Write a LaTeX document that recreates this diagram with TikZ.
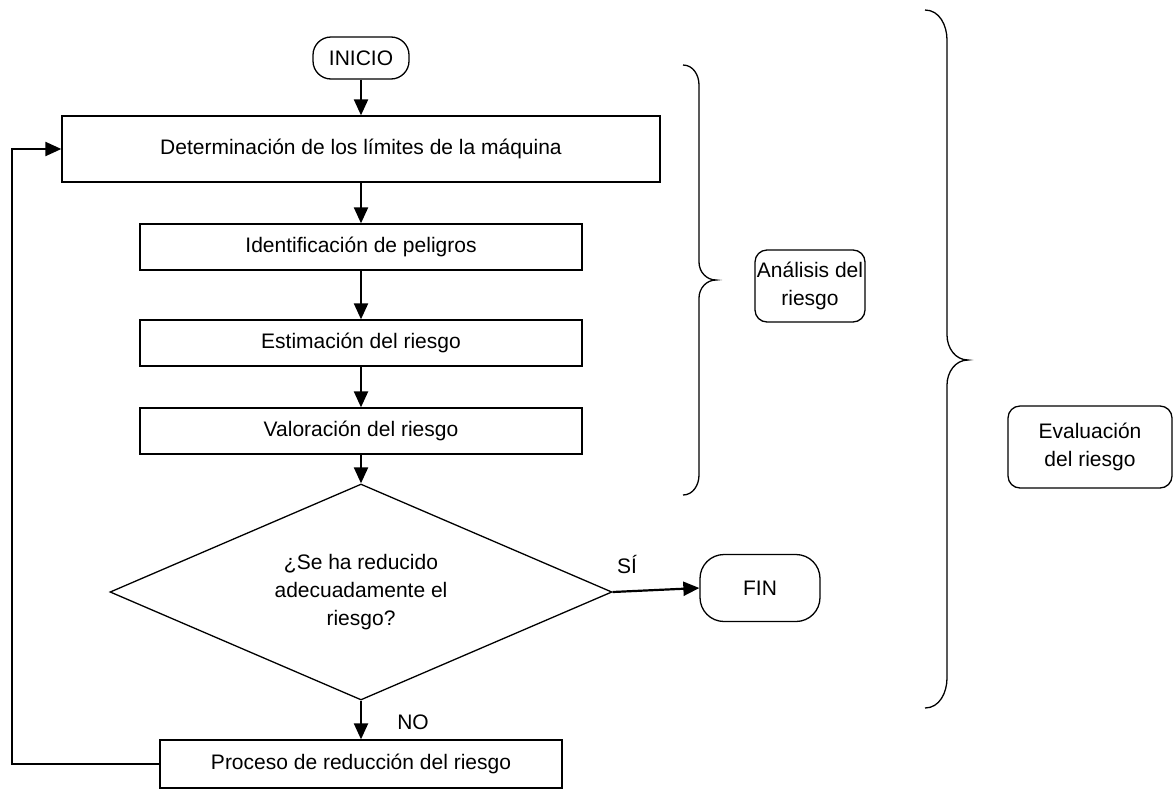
\documentclass[tikz,border=0pt]{standalone}
\usepackage{fontspec}
\setmainfont{Liberation Sans}
\usetikzlibrary{arrows.meta, shapes.geometric}
\newcommand{\fsz}{\fontsize{21}{28}\selectfont}

\tikzset{
	blk/.style={draw, line width=1.3pt, minimum height=46pt, inner sep=0pt, font=\fsz},
	term/.style={draw, line width=1.3pt, rounded corners=18pt, inner sep=0pt, font=\fsz},
	note/.style={draw, line width=1.3pt, rounded corners=12pt, inner sep=0pt, align=center, font=\fsz},
	flow/.style={line width=2.2pt, -{Triangle[length=16pt,width=14pt]}},
	brace/.style={line width=1.3pt}
}

\begin{document}
\begin{tikzpicture}[x=1pt, y=-1pt]
	\useasboundingbox (0,0) rectangle (1174,809);

	\node[term, minimum width=96pt, minimum height=42pt] (ini) at (361,58) {INICIO};
	\node[blk, minimum width=598pt, minimum height=66pt] (lim) at (361,149) {Determinación de los límites de la máquina};
	\node[blk, minimum width=442pt] (pel) at (361,247) {Identificación de peligros};
	\node[blk, minimum width=442pt] (est) at (361,343) {Estimación del riesgo};
	\node[blk, minimum width=442pt] (val) at (361,431) {Valoración del riesgo};
	\node[draw, diamond, line width=1.3pt, aspect=2.31, minimum width=502pt, minimum height=216pt, inner sep=0pt, align=center, font=\fsz] (dec) at (361,592) {¿Se ha reducido\\adecuadamente el\\riesgo?};
	\node[term, rounded corners=24pt, minimum width=120pt, minimum height=67pt] (fin) at (760,588) {FIN};
	\node[blk, minimum width=402pt, minimum height=48pt] (red) at (361,764) {Proceso de reducción del riesgo};

	\node[font=\fsz] (si) at (627,564) {SÍ};
	\node[font=\fsz] (no) at (413,722) {NO};

	\draw[flow] (ini) -- (lim);
	\draw[flow] (lim) -- (pel);
	\draw[flow] (pel) -- (est);
	\draw[flow] (est) -- (val);
	\draw[flow] (val) -- (dec);
	\draw[flow] (dec.east) -- (fin.west);
	\draw[flow] (dec.south) -- (red);
	\coordinate (lft) at (12,0);
	\draw[flow] (red.west) -- (red.west -| lft) |- (lim.west);

	% llaves
	\draw[brace] (683,65) to[out=0,in=90] (699,85) to (699,262) to[out=270,in=180] (716,280) to[out=180,in=90] (699,298) to (699,475) to[out=270,in=0] (683,495);
	\draw[brace] (925,10) to[out=0,in=90] (947,40) to (947,335) to[out=270,in=180] (968,360) to[out=180,in=90] (947,385) to (947,678) to[out=270,in=0] (925,708);

	\node[note, minimum width=110pt, minimum height=72pt] (ana) at (810,286) {Análisis del\\riesgo};
	\node[note, minimum width=164pt, minimum height=82pt] (eva) at (1090,447) {Evaluación\\del riesgo};
\end{tikzpicture}
\end{document}
